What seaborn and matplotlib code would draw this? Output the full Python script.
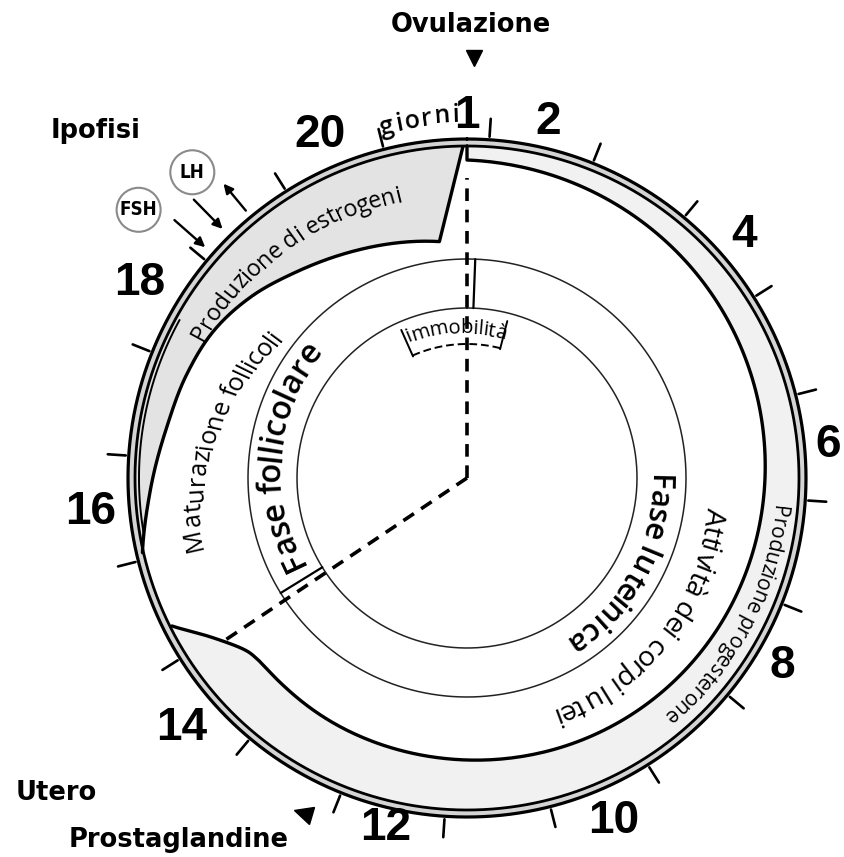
import numpy as np
import matplotlib.pyplot as plt
import seaborn as sns
from matplotlib.font_manager import FontProperties
from matplotlib.markers import MarkerStyle
from matplotlib.patches import Circle
from matplotlib.transforms import Affine2D

sns.set_theme(style="white")
plt.rcParams["font.family"] = ["DejaVu Sans"]
plt.rcParams["text.color"] = "black"

# ==========================================
# DATA  (time in days from ovulation, 18 degrees per day slot)
# ==========================================
day_labels = [1, 2, 4, 6, 8, 10, 12, 14, 16, 18, 20]
tick_t = np.arange(20) + 0.21          # day boundaries

ovulation_t = 0.0
luteolysis_t = 13.12                   # dashed line towards the uterus
prostaglandin_t = 11.45
immobility_t = [-1.33, 0.8]            # standing heat

# progesterone (corpus luteum) band, inner edge
prog_t = [0.0, 2.5, 5.0, 7.5, 10.0, 11.6, 12.35, 12.72, 12.95, 13.25, 13.52]
prog_r = [318, 308, 298, 290, 282, 279, 277, 277, 283, 303, 330]

# estrogen band, inner edge
estr_t = [14.28, 14.83, 15.5, 16.11, 16.67, 17.22, 17.78, 18.33, 18.89, 19.63, 19.96]
estr_r = [333, 318, 305, 299, 293, 282, 268, 257, 248, 238, 331]

# hypophysis hormones: arrow day, direction (+1 towards ovary)
hormone_names = ["FSH", "LH"]
hormone_t = [17.18, 17.67]
arrow_t = [17.3, 17.53, 17.8]
arrow_dir = [1, 1, -1]

# ==========================================
# GEOMETRY HELPERS
# ==========================================
CX, CY = 467, 478
DEG = 18.0
R_OUT, R_IN = 339, 332
R_RING = [170, 219]


def polar(t, r):
    a = np.radians(np.asarray(t, float) * DEG)
    r = np.asarray(r, float)
    return CX + r * np.sin(a), CY - r * np.cos(a)


def catmull(ts, rs, n=40):
    P = np.column_stack([ts, rs]).astype(float)
    P = np.vstack([P[0], P, P[-1]])
    out = []
    u = np.linspace(0, 1, n, endpoint=False)[:, None]
    for i in range(1, len(P) - 2):
        p0, p1, p2, p3 = P[i - 1], P[i], P[i + 1], P[i + 2]
        seg = 0.5 * (2 * p1 + (-p0 + p2) * u
                     + (2 * p0 - 5 * p1 + 4 * p2 - p3) * u ** 2
                     + (-p0 + 3 * p1 - 3 * p2 + p3) * u ** 3)
        out.append(seg)
    out.append(P[-2][None])
    pts = np.vstack(out)
    return pts[:, 0], pts[:, 1]


fig = plt.figure(figsize=(8.45, 8.57), dpi=100)
ax = fig.add_axes([0, 0, 1, 1])
renderer = fig.canvas.get_renderer()


def curve(t, r, **kw):
    x, y = polar(t, r)
    sns.lineplot(x=x, y=y, sort=False, estimator=None, ax=ax, **kw)


def fill_band(t_out, r_out, t_in, r_in, color):
    x1, y1 = polar(t_out, r_out)
    x2, y2 = polar(t_in[::-1], r_in[::-1])
    ax.fill(np.r_[x1, x2], np.r_[y1, y2], color=color, lw=0, zorder=0)


def text_w(s, fp):
    return renderer.get_text_width_height_descent(s, fp, ismath=False)


def char_centres(s, fp):
    base = text_w("||", fp)[0]
    w = np.array([text_w("|" + ch + "|", fp)[0] - base for ch in s])
    c = np.cumsum(w) - w / 2
    return c - c[0]


def arc_text(s, mid_deg, r0, r1, span, weight="normal", size=None):
    # without a size, the font is scaled so the text covers the given arc
    r_mean = (r0 + r1) / 2
    target = np.radians(span) * r_mean
    fp = FontProperties(family=["Open Sans", "DejaVu Sans"], size=20, weight=weight)
    if size is None:
        c = char_centres(s, fp)
        size = 20 * target / c[-1]
    fp.set_size(size)
    c = char_centres(s, fp)
    c = c + np.arange(len(s)) * (target - c[-1]) / (len(s) - 1)
    rr = r0 + (r1 - r0) * c / c[-1]
    ang = mid_deg + np.degrees((c - c[-1] / 2) / r_mean)
    for ch, a, r in zip(s, ang, rr):
        x, y = polar(a / DEG, r)
        ax.text(x, y, ch, fontproperties=fp, rotation=-a, rotation_mode="anchor",
                ha="center", va="center", color="black", zorder=5)


# ==========================================
# BANDS
# ==========================================
full = np.linspace(0, 20, 1200)
fill_band(full, np.full_like(full, R_OUT), full, np.full_like(full, R_IN), "#d4d4d4")

pt, pr = catmull(prog_t, prog_r)
po = np.linspace(0, prog_t[-1], 400)
fill_band(po, np.full_like(po, R_IN), pt, pr, "#f1f1f1")

et, er = catmull(estr_t[:-1], estr_r[:-1])
et, er = np.r_[et, estr_t[-1]], np.r_[er, estr_r[-1]]
eo = np.linspace(estr_t[0], estr_t[-1], 400)
fill_band(eo, np.full_like(eo, R_IN), et, er, "#e3e3e3")

# outlines
curve(full, np.full_like(full, R_OUT), color="black", linewidth=2.3)
curve(full, np.full_like(full, R_IN), color="black", linewidth=2.0)
curve(np.r_[0, pt], np.r_[R_IN, pr], color="black", linewidth=2.4)
curve(et, er, color="black", linewidth=2.4)
st = np.linspace(14.45, 16.6, 100)
curve(st, np.full_like(st, 328), color="black", linewidth=1.4)
for r in R_RING:
    curve(full, np.full_like(full, r), color="#222222", linewidth=1.1)

# ticks
for t in tick_t:
    curve([t, t], [342, 360], color="black", linewidth=1.9)

# dashed phase lines
for t, r_end in [(ovulation_t, 300), (luteolysis_t, 292)]:
    x, y = polar([t, t], [0, r_end])
    ax.plot(x, y, color="black", lw=2.6, linestyle=(0, (3.5, 2.4)), dash_capstyle="butt")
    curve([t + 0.12, t + 0.12], R_RING, color="black", linewidth=1.6)

# immobility bracket
it = np.linspace(immobility_t[0], immobility_t[1], 60)
x, y = polar(it, np.full_like(it, 134))
ax.plot(x, y, color="black", lw=1.4, linestyle=(0, (4, 2)))
for t in immobility_t:
    curve([t, t], [133, 162], color="black", linewidth=1.4)

# ==========================================
# DAY LABELS
# ==========================================
num_fp = FontProperties(family="Liberation Sans", weight="bold", size=33)
for d in day_labels:
    t = ovulation_t if d == 1 else tick_t[d - 2] + 0.5
    w, h, _ = text_w(str(d), num_fp)
    a = np.radians(t * DEG)
    r = 346 + 1.2 * w / 2 * abs(np.sin(a)) + h / 2 * abs(np.cos(a))
    x, y = polar(t, r)
    y = min(y, 828)  # keep the bottom label inside the figure
    ax.text(x, y, str(d), fontproperties=num_fp, ha="center", va="center")

# ==========================================
# MARKERS, ARROWS, LABELS
# ==========================================
x, y = polar(ovulation_t + 0.05, 420)
ax.plot([x], [y], marker="v", markersize=12, color="black", linestyle="none")

x, y = polar(prostaglandin_t, 373)
ang = -prostaglandin_t * DEG + 8
ax.plot([x], [y], marker=MarkerStyle(">", transform=Affine2D().rotate_deg(ang)),
        markersize=13, color="black", linestyle="none")

for t, dr in zip(arrow_t, arrow_dir):
    r_tail, r_head = (390, 349) if dr > 0 else (347, 382)
    ax.annotate("", xy=polar(t, r_head), xytext=polar(t, r_tail),
                arrowprops=dict(arrowstyle="-|>", lw=1.7, color="black", mutation_scale=14,
                                shrinkA=0, shrinkB=0))

for name, t, r in zip(hormone_names, hormone_t, [424, 411]):
    x, y = polar(t, r)
    ax.add_patch(Circle((x, y), 22, fc="white", ec="#8a8a8a", lw=1.5, zorder=4))
    ax.text(x, y, name, ha="center", va="center", fontsize=13.5, fontweight="bold",
            fontstretch="condensed", zorder=5)

for txt, px, py in [("Ovulazione", 471, 25), ("Ipofisi", 96, 131),
                    ("Utero", 56, 793), ("Prostaglandine", 179, 840)]:
    ax.text(px, py, txt, ha="center", va="center", fontsize=18.5, fontweight="bold")

# curved texts
arc_text("giorni", -7.3, 360, 363, 11.0, "semibold", size=18)
arc_text("Produzione di estrogeni", 322.4, 303, 290, 47.7)
arc_text("Maturazione follicoli", 282, 280, 237, 49.3)
arc_text("Fase follicolare", 276.6, 192, 200, 63.7, "semibold")
arc_text("immobilità", -4.7, 153, 148, 35.4)
arc_text("Fase luteinica", 118.75, 191, 195, 55.1, "semibold")
arc_text("Attività dei corpi lutei", 129.3, 249, 253, 60.6)
arc_text("Produzione progesterone", 117.8, 313, 312, 43.2)

ax.set_xlim(0, 845)
ax.set_ylim(857, 0)
ax.set_aspect("equal")
ax.axis("off")
fig.savefig("out.png", dpi=100)
